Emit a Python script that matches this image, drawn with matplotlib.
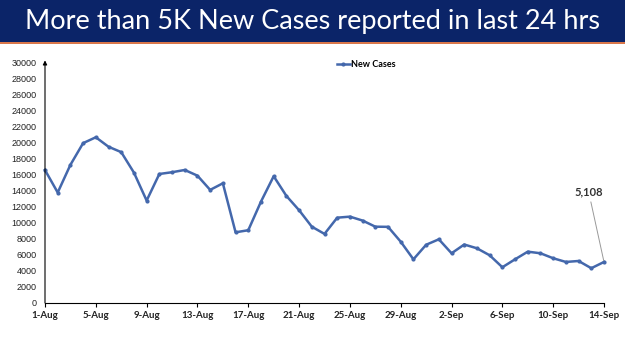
import matplotlib
matplotlib.use('Agg')
import matplotlib.pyplot as plt
from matplotlib.patches import Rectangle

# 数据
days = ['1-Aug', '2-Aug', '3-Aug', '4-Aug', '5-Aug', '6-Aug', '7-Aug', '8-Aug',
        '9-Aug', '10-Aug', '11-Aug', '12-Aug', '13-Aug', '14-Aug', '15-Aug',
        '16-Aug', '17-Aug', '18-Aug', '19-Aug', '20-Aug', '21-Aug', '22-Aug',
        '23-Aug', '24-Aug', '25-Aug', '26-Aug', '27-Aug', '28-Aug', '29-Aug',
        '30-Aug', '31-Aug', '1-Sep', '2-Sep', '3-Sep', '4-Sep', '5-Sep',
        '6-Sep', '7-Sep', '8-Sep', '9-Sep', '10-Sep', '11-Sep', '12-Sep',
        '13-Sep', '14-Sep']
new_cases = [16550, 13750, 17200, 19900, 20630, 19450, 18780, 16230,
             12750, 16060, 16280, 16560, 15850, 14080, 14900,
             8800, 9060, 12620, 15780, 13330, 11550, 9500,
             8600, 10620, 10750, 10260, 9500, 9480, 7630,
             5440, 7250, 7930, 6190, 7280, 6810, 5940,
             4450, 5440, 6390, 6190, 5570, 5110, 5230,
             4330, 5108]
y_ticks = list(range(0, 30001, 2000))
x_tick_step = 4

LINE = '#4468AC'

fig = plt.figure(figsize=(6.25, 3.51), dpi=100)

# 标题横幅
fig.patches.append(Rectangle((0, 1 - 42 / 351), 1, 42 / 351, transform=fig.transFigure,
                             facecolor='#0B2468', edgecolor='none', zorder=0))
fig.patches.append(Rectangle((0, 1 - 44 / 351), 1, 2 / 351, transform=fig.transFigure,
                             facecolor='#D9774A', edgecolor='none', zorder=0))
fig.text(0.5, 1 - 21 / 351, 'More than 5K New Cases reported in last 24 hrs',
         ha='center', va='center', color='white', fontsize=19.5, family='Lato')

ax = fig.add_axes([45 / 625, 48 / 351, 559 / 625, 241 / 351])
x = list(range(len(days)))
ax.plot(x, new_cases, color=LINE, lw=1.8, marker='o', ms=2, clip_on=False,
        label='New Cases')

ax.set_xlim(0, len(days) - 1)
ax.set_ylim(0, 30000)
ax.set_yticks(y_ticks)
ax.set_yticklabels([str(v) for v in y_ticks], fontsize=6.5, color='#222222',
                   family='Liberation Sans')
ax.tick_params(axis='y', length=0, pad=6)
ax.set_xticks(x[::x_tick_step])
ax.set_xticklabels(days[::x_tick_step], fontsize=7, fontweight='bold',
                   color='#222222', family='Lato')
ax.tick_params(axis='x', direction='out', length=3, width=0.8, color='black', pad=3)

for s in ['top', 'right']:
    ax.spines[s].set_visible(False)
ax.spines['left'].set_visible(False)
ax.spines['bottom'].set_linewidth(0.8)
# y轴带箭头
ax.annotate('', xy=(0, 30200), xytext=(0, 0),
            arrowprops=dict(arrowstyle='-|>', color='black', lw=0.8,
                            mutation_scale=6, shrinkA=0, shrinkB=0),
            annotation_clip=False)

# 最后一个点的标注
last = len(days) - 1
ax.annotate(f'{new_cases[-1]:,}', xy=(last, new_cases[-1]),
            xytext=(last - 1.2, 13100), ha='center', va='bottom',
            fontsize=8, fontweight='bold', color='#333333', family='Lato',
            arrowprops=dict(arrowstyle='-', color='#999999', lw=0.7,
                            shrinkA=1, shrinkB=1))

ax.legend(loc='upper center', bbox_to_anchor=(0.575, 1.04), frameon=False,
          handlelength=1.4, handletextpad=0.2,
          prop={'family': 'Lato', 'weight': 'bold', 'size': 6.5})

fig.savefig('out.png', dpi=100, facecolor='white')
